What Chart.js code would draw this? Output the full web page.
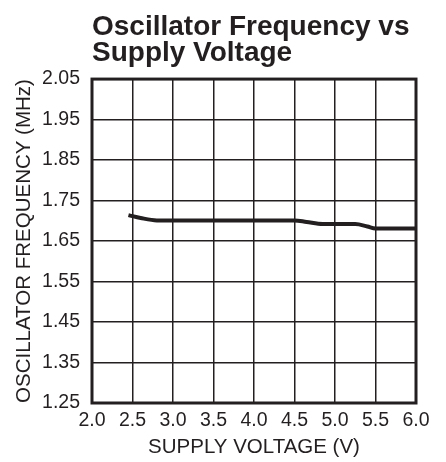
<!DOCTYPE html>
<html>
<head>
<meta charset="utf-8">
<script src="https://cdn.jsdelivr.net/npm/chart.js@4"></script>
<style>
  html, body { margin: 0; padding: 0; background: #fff; }
  #wrap { width: 446px; height: 462px; }
</style>
</head>
<body>
<div id="wrap"><canvas id="c" width="446" height="462"></canvas></div>
<script>
const voltage = [2.45, 2.6, 2.8, 3.0, 3.5, 4.0, 4.5, 4.65, 4.85, 5.0, 5.25, 5.4, 5.5, 6.0];
const frequency = [1.714, 1.707, 1.701, 1.701, 1.701, 1.701, 1.701, 1.697, 1.692, 1.692, 1.692, 1.686, 1.681, 1.681];
const xTicks = [2.0, 2.5, 3.0, 3.5, 4.0, 4.5, 5.0, 5.5, 6.0];
const yTicks = [1.25, 1.35, 1.45, 1.55, 1.65, 1.75, 1.85, 1.95, 2.05];

const ink = '#231f20';
const fontFamily = '"Liberation Sans", Arial, sans-serif';

const frame = {
  id: 'frame',
  afterDatasetsDraw(chart) {
    const a = chart.chartArea, ctx = chart.ctx;
    ctx.save();
    ctx.strokeStyle = ink;
    ctx.lineWidth = 3;
    ctx.strokeRect(a.left, a.top, a.right - a.left, a.bottom - a.top);
    ctx.restore();
  }
};

new Chart(document.getElementById('c'), {
  type: 'line',
  data: {
    datasets: [{
      data: voltage.map((v, i) => ({ x: v, y: frequency[i] })),
      borderColor: ink,
      borderWidth: 4,
      pointRadius: 0,
      cubicInterpolationMode: 'monotone',
      fill: false
    }]
  },
  options: {
    responsive: false,
    animation: false,
    devicePixelRatio: 1,
    layout: { padding: { left: 0, right: 30, top: 0, bottom: 0 } },
    plugins: {
      legend: { display: false },
      tooltip: { enabled: false },
      title: {
        display: true,
        fullSize: false,
        align: 'start',
        text: ['Oscillator Frequency vs', 'Supply Voltage'],
        color: ink,
        font: { family: fontFamily, size: 28, weight: 'bold', lineHeight: 0.93 },
        padding: { top: 14, bottom: 13 }
      }
    },
    scales: {
      x: {
        type: 'linear',
        min: 2.0, max: 6.0,
        afterBuildTicks(s) { s.ticks = xTicks.map(v => ({ value: v })); },
        afterFit(s) { s.height = 59; },
        grid: { color: ink, lineWidth: 1.5, drawTicks: false },
        border: { display: false },
        ticks: {
          color: ink, padding: 6, maxRotation: 0, autoSkip: false,
          font: { family: fontFamily, size: 19.5 },
          callback: v => Number(v).toFixed(1)
        },
        title: {
          display: true, text: 'SUPPLY VOLTAGE (V)', color: ink,
          font: { family: fontFamily, size: 20.5 },
          padding: { top: 0, bottom: 2 }
        }
      },
      y: {
        type: 'linear',
        min: 1.25, max: 2.05,
        afterBuildTicks(s) { s.ticks = yTicks.map(v => ({ value: v })); },
        afterFit(s) { s.width = 92; },
        grid: { color: ink, lineWidth: 1.5, drawTicks: false },
        border: { display: false },
        ticks: {
          color: ink, padding: 12, autoSkip: false,
          font: { family: fontFamily, size: 19.5 },
          callback: v => Number(v).toFixed(2)
        },
        title: {
          display: true, text: 'OSCILLATOR FREQUENCY (MHz)', color: ink,
          font: { family: fontFamily, size: 20.5 },
          padding: { top: 12, bottom: 0 }
        }
      }
    }
  },
  plugins: [frame]
});
</script>
</body>
</html>
